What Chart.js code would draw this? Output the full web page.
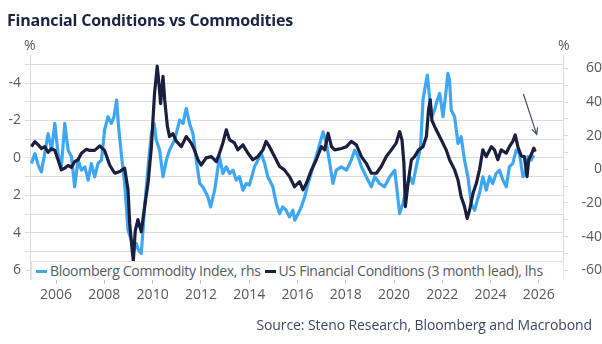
<!DOCTYPE html>
<html>
<head>
<meta charset="utf-8">
<script src="https://cdn.jsdelivr.net/npm/chart.js@4/dist/chart.umd.min.js"></script>
<style>
  html, body { margin: 0; padding: 0; background: #ffffff; }
  #wrap { position: relative; width: 602px; height: 344px; overflow: hidden; font-family: "Open Sans", "Noto Sans", sans-serif; }
  #chart { position: absolute; left: 0; top: 0; }
  #title { position: absolute; left: 7px; top: 9px; font-size: 16px; font-weight: 700; color: #1c2444; letter-spacing: -0.2px; }
  .unit { position: absolute; top: 35px; font-size: 14px; color: #595959; }
  #legend { position: absolute; left: 31px; top: 261px; width: 531px; height: 18px; background: #fff; border: 1px solid #e4e4e4; border-bottom: none; font-size: 14px; color: #555a66; white-space: nowrap; line-height: 18px; letter-spacing: -0.3px; }
  #legend span.sw { display: inline-block; width: 11px; height: 3px; vertical-align: middle; margin: 0 3px 2px 4px; }
  #source { position: absolute; right: 10px; top: 315px; font-size: 14px; color: #3c4660; letter-spacing: -0.1px; }
</style>
</head>
<body>
<div id="wrap">
  <canvas id="chart" width="602" height="344"></canvas>
  <div id="title">Financial Conditions vs Commodities</div>
  <div class="unit" style="left:24px">%</div>
  <div class="unit" style="left:558px">%</div>
  <div id="legend"><span class="sw" style="background:#3fa7f2"></span>Bloomberg Commodity Index, rhs<span class="sw" style="background:#1b1f3f"></span>US Financial Conditions (3 month lead), lhs</div>
  <div id="source">Source: Steno Research, Bloomberg and Macrobond</div>
</div>
<script>
// Bloomberg Commodity Index, y/y % (right axis)
const commodityDates = [
  2004.98, 2005.12, 2005.26, 2005.39, 2005.53, 2005.67, 2005.81, 2005.95, 2006.08, 2006.22,
  2006.36, 2006.50, 2006.64, 2006.77, 2006.91, 2007.05, 2007.19, 2007.33, 2007.46, 2007.60,
  2007.74, 2007.88, 2008.01, 2008.15, 2008.29, 2008.40, 2008.51, 2008.59, 2008.70, 2008.84,
  2008.98, 2009.12, 2009.23, 2009.32, 2009.42, 2009.53, 2009.67, 2009.81, 2009.95, 2010.06,
  2010.15, 2010.29, 2010.43, 2010.57, 2010.70, 2010.91, 2011.12, 2011.26, 2011.39, 2011.53,
  2011.67, 2011.81, 2011.95, 2012.08, 2012.29, 2012.40, 2012.57, 2012.77, 2012.91, 2013.05,
  2013.19, 2013.33, 2013.46, 2013.60, 2013.74, 2013.88, 2014.01, 2014.22, 2014.36, 2014.50,
  2014.64, 2014.77, 2014.98, 2015.12, 2015.26, 2015.39, 2015.53, 2015.67, 2015.81, 2015.89,
  2016.03, 2016.16, 2016.30, 2016.44, 2016.65, 2016.85, 2017.06, 2017.20, 2017.34, 2017.47,
  2017.61, 2017.82, 2018.03, 2018.23, 2018.37, 2018.51, 2018.65, 2018.85, 2019.06, 2019.20,
  2019.40, 2019.61, 2019.82, 2020.03, 2020.14, 2020.23, 2020.37, 2020.51, 2020.65, 2020.78,
  2020.92, 2021.10, 2021.20, 2021.29, 2021.38, 2021.47, 2021.57, 2021.68, 2021.79, 2021.89,
  2022.03, 2022.16, 2022.23, 2022.30, 2022.37, 2022.51, 2022.65, 2022.78, 2022.92, 2023.06,
  2023.20, 2023.34, 2023.45, 2023.54, 2023.68, 2023.82, 2023.96, 2024.09, 2024.23, 2024.37,
  2024.51, 2024.65, 2024.78, 2024.92, 2025.06, 2025.20, 2025.34, 2025.43, 2025.55, 2025.68,
  2025.79
];
const commodityValues = [
  3.5, 9.4, 2.5, -1.5, 9.4, 21.3, 11.4, 27.3, 9.4, 1.5,
  27.3, 11.4, 7.5, -10.4, 5.5, -0.5, 1.5, -6.4, 3.5, -4.4,
  3.5, 5.5, 23.3, 31.3, 27.3, 31.3, 41.2, 25.3, 9.4, -8.4,
  -36.2, -42.2, -48.1, -44.1, -48.1, -50.1, -22.3, 1.5, 21.3, 27.3,
  17.4, 11.4, -4.4, 5.5, 11.4, 17.4, 29.3, 27.3, 36.2, 27.3,
  21.3, 5.5, -8.4, -10.4, -16.4, -22.3, -12.4, 7.5, -2.5, 1.5,
  -2.5, -0.5, -6.4, -4.4, -12.4, -8.4, -9.4, 1.5, 5.5, 9.4,
  3.5, -4.4, -10.4, -20.3, -26.3, -22.3, -24.3, -28.3, -24.3, -30.2,
  -26.3, -22.3, -16.4, -8.4, 1.5, 11.4, 22.3, 15.4, 3.5, -8.4,
  -0.5, 1.5, -0.5, 5.5, 11.4, 7.5, 1.5, -4.4, -10.4, -4.4,
  -8.4, -10.4, -4.4, -0.5, -14.4, -26.3, -20.3, -12.4, -4.4, -8.4,
  1.5, 13.4, 41.2, 49.1, 56.1, 43.2, 31.3, 35.2, 41.2, 45.1,
  31.3, 47.1, 57.1, 53.1, 35.2, 31.3, 15.4, 19.4, 5.5, -4.4,
  -20.3, -24.3, -18.3, -14.4, -4.4, -12.4, -4.4, -8.4, -2.5, -0.5,
  -6.4, -10.4, 1.5, 3.5, 11.4, 9.4, -4.4, -2.5, 7.5, 5.5,
  8.4
];

// US Financial Conditions, 3 month lead (left axis, inverted)
const conditionsDates = [
  2004.98, 2005.12, 2005.26, 2005.39, 2005.53, 2005.67, 2005.81, 2005.95, 2006.08, 2006.22,
  2006.36, 2006.50, 2006.64, 2006.77, 2006.91, 2007.05, 2007.26, 2007.39, 2007.60, 2007.81,
  2008.01, 2008.22, 2008.43, 2008.64, 2008.84, 2008.98, 2009.05, 2009.15, 2009.20, 2009.28,
  2009.39, 2009.53, 2009.67, 2009.81, 2009.95, 2010.01, 2010.08, 2010.15, 2010.19, 2010.26,
  2010.33, 2010.43, 2010.50, 2010.61, 2010.70, 2010.84, 2010.98, 2011.19, 2011.39, 2011.60,
  2011.74, 2011.88, 2012.01, 2012.22, 2012.43, 2012.64, 2012.77, 2012.91, 2013.05, 2013.19,
  2013.39, 2013.53, 2013.74, 2013.95, 2014.15, 2014.36, 2014.57, 2014.70, 2014.84, 2015.05,
  2015.26, 2015.46, 2015.67, 2015.88, 2016.09, 2016.23, 2016.37, 2016.58, 2016.78, 2016.99,
  2017.13, 2017.27, 2017.41, 2017.54, 2017.82, 2018.03, 2018.23, 2018.44, 2018.65, 2018.85,
  2019.06, 2019.27, 2019.47, 2019.68, 2019.89, 2020.09, 2020.23, 2020.33, 2020.41, 2020.47,
  2020.58, 2020.72, 2020.85, 2021.02, 2021.20, 2021.34, 2021.43, 2021.50, 2021.57, 2021.68,
  2021.82, 2021.96, 2022.16, 2022.30, 2022.51, 2022.65, 2022.78, 2022.92, 2023.03, 2023.13,
  2023.27, 2023.41, 2023.54, 2023.68, 2023.82, 2024.03, 2024.16, 2024.30, 2024.44, 2024.65,
  2024.78, 2024.92, 2025.02, 2025.13, 2025.27, 2025.40, 2025.51, 2025.58, 2025.71, 2025.79,
  2025.85
];
const conditionsValues = [
  -0.6, -0.87, -0.7, -0.5, -0.6, -0.3, -0.5, -0.4, 0.1, 0.64,
  0.55, 0.4, 0.5, 0.2, 0.1, -0.25, -0.46, -0.4, -0.4, -0.64,
  -0.4, 0.38, 0.82, 0.73, 0.55, 1.7, 3.5, 4.9, 5.5, 3.9,
  3.3, 3.95, 2.6, 1.36, -0.6, -1.95, -3.46, -4.36, -4.9, -4.0,
  -2.9, -4.36, -3.1, -1.7, -1.14, -1.3, -0.9, -0.6, -1.14, -0.79,
  -0.4, 0.1, 0.38, 0.0, -0.07, 0.2, -0.25, -0.8, -1.5, -0.96,
  -0.8, -0.43, -0.7, -0.25, 0.1, -0.07, -0.43, -0.88, -0.6, -0.07,
  0.46, 0.64, 1.0, 1.54, 1.27, 1.71, 1.36, 0.64, 0.1, -0.6,
  -0.43, -1.32, -0.6, -0.43, -0.5, -0.6, -0.88, -0.7, -0.07, 0.29,
  0.82, 0.82, 0.46, -0.07, -0.43, -0.79, -1.41, -0.96, 0.29, 2.6,
  1.36, 0.1, -0.07, -0.43, -0.6, -1.14, -2.57, -3.1, -2.0, -1.68,
  -1.32, -0.96, -0.43, 0.1, 0.64, 1.18, 2.07, 2.6, 3.23, 2.8,
  1.9, 1.36, 0.64, -0.43, -0.07, -0.6, -0.43, 0.1, -0.43, -0.25,
  -0.6, -0.88, -1.23, -0.6, -0.1, -0.07, 1.0, 0.1, -0.25, -0.52,
  -0.34
];

const yearTicks = [2006, 2008, 2010, 2012, 2014, 2016, 2018, 2020, 2022, 2024, 2026];
const leftTicks = [-5, -4, -3, -2, -1, 0, 1, 2, 3, 4, 5, 6];
const rightTicks = [-60, -50, -40, -30, -20, -10, 0, 10, 20, 30, 40, 50, 60];

// Arrow pointing at the latest readings, in (year, rhs %) units
const arrowFrom = [2025.36, 44.8];
const arrowTo = [2025.91, 20.8];

const toPoints = (xs, ys) => xs.map((x, i) => ({ x: x, y: ys[i] }));

const axisFont = { family: "'Open Sans', 'Noto Sans', sans-serif", size: 14 };
const tickColor = '#595959';
const lineGrey = '#dcdcdc';

const arrowPlugin = {
  id: 'arrowNote',
  afterDatasetsDraw(chart) {
    const xs = chart.scales.x, ys = chart.scales.yR, ctx = chart.ctx;
    const x0 = xs.getPixelForValue(arrowFrom[0]), y0 = ys.getPixelForValue(arrowFrom[1]);
    const x1 = xs.getPixelForValue(arrowTo[0]), y1 = ys.getPixelForValue(arrowTo[1]);
    const ang = Math.atan2(y1 - y0, x1 - x0);
    ctx.save();
    ctx.strokeStyle = '#4b5068';
    ctx.lineWidth = 1.2;
    ctx.beginPath();
    ctx.moveTo(x0, y0);
    ctx.lineTo(x1, y1);
    ctx.moveTo(x1 - 7 * Math.cos(ang - 0.45), y1 - 7 * Math.sin(ang - 0.45));
    ctx.lineTo(x1, y1);
    ctx.lineTo(x1 - 7 * Math.cos(ang + 0.45), y1 - 7 * Math.sin(ang + 0.45));
    ctx.stroke();
    ctx.restore();
  }
};

new Chart(document.getElementById('chart'), {
  type: 'line',
  data: {
    datasets: [
      {
        label: 'Bloomberg Commodity Index, rhs',
        data: toPoints(commodityDates, commodityValues),
        yAxisID: 'yR',
        borderColor: '#3fa7f2',
        borderWidth: 3.2,
        borderJoinStyle: 'round',
        pointRadius: 0,
        tension: 0,
        order: 2
      },
      {
        label: 'US Financial Conditions (3 month lead), lhs',
        data: toPoints(conditionsDates, conditionsValues),
        yAxisID: 'yL',
        borderColor: '#1b1f3f',
        borderWidth: 3.2,
        borderJoinStyle: 'round',
        pointRadius: 0,
        tension: 0,
        order: 1
      }
    ]
  },
  options: {
    responsive: false,
    animation: false,
    events: [],
    layout: { padding: { top: 55, left: 0, right: 0, bottom: 36.5 } },
    plugins: { legend: { display: false }, tooltip: { enabled: false } },
    scales: {
      x: {
        type: 'linear',
        min: 2004.92,
        max: 2027.0,
        afterBuildTicks: axis => { axis.ticks = yearTicks.map(v => ({ value: v })); },
        afterFit: axis => { axis.height = 28; },
        ticks: { color: tickColor, font: axisFont, padding: 3, maxRotation: 0, autoSkip: false, callback: v => String(v) },
        grid: { drawOnChartArea: false, drawTicks: true, tickLength: 4, color: '#bdbdbd' },
        border: { display: true, color: lineGrey }
      },
      yL: {
        type: 'linear',
        position: 'left',
        reverse: true,
        min: -5.5,
        max: 6.5,
        afterBuildTicks: axis => { axis.ticks = leftTicks.map(v => ({ value: v })); },
        afterFit: axis => { axis.width = 30; },
        ticks: { color: tickColor, font: axisFont, padding: 4, autoSkip: false, callback: v => (v % 2 === 0 ? String(v) : '') },
        grid: { color: lineGrey, tickLength: 5, drawTicks: true },
        border: { display: true, color: lineGrey }
      },
      yR: {
        type: 'linear',
        position: 'right',
        min: -65.5,
        max: 68,
        afterBuildTicks: axis => { axis.ticks = rightTicks.map(v => ({ value: v })); },
        afterFit: axis => { axis.width = 39; },
        ticks: { color: tickColor, font: axisFont, padding: 5, crossAlign: 'far', autoSkip: false, callback: v => (v % 20 === 0 ? String(v) : '') },
        grid: { drawOnChartArea: false, color: lineGrey, tickLength: 5, drawTicks: true },
        border: { display: true, color: lineGrey }
      }
    }
  },
  plugins: [arrowPlugin]
});
</script>
</body>
</html>
